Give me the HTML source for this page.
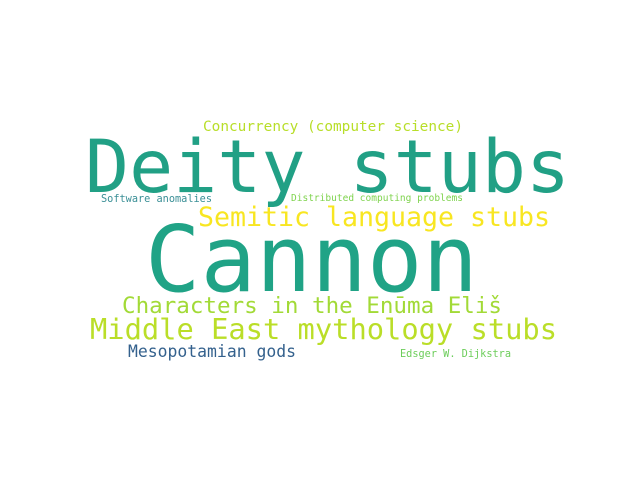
<!DOCTYPE html>
<html><head><meta charset="utf-8"><style>
html,body{margin:0;padding:0;background:#fff;}
svg{display:block;}
text{font-family:"DejaVu Sans Mono","Liberation Mono",monospace;}
</style></head><body>
<svg width="640" height="480" viewBox="0 0 640 480">
<rect width="640" height="480" fill="#fff"/>
<text x="203" y="131" font-size="14.4" fill="#b8de29" textLength="260" lengthAdjust="spacingAndGlyphs">Concurrency (computer science)</text>
<text x="85" y="192" font-size="73" fill="#21a085" textLength="485" lengthAdjust="spacingAndGlyphs">Deity stubs</text>
<text x="101" y="202" font-size="10.2" fill="#3a8f96" textLength="111" lengthAdjust="spacingAndGlyphs">Software anomalies</text>
<text x="291" y="201" font-size="9.5" fill="#7fd34e" textLength="172" lengthAdjust="spacingAndGlyphs">Distributed computing problems</text>
<text x="198" y="226" font-size="26.6" fill="#f8e621" textLength="352" lengthAdjust="spacingAndGlyphs">Semitic language stubs</text>
<text x="145" y="291" font-size="92" fill="#20a386" textLength="333" lengthAdjust="spacingAndGlyphs">Cannon</text>
<text x="122" y="313" font-size="22.5" fill="#a2da37" textLength="380" lengthAdjust="spacingAndGlyphs">Characters in the Enūma Eliš</text>
<text x="90" y="339" font-size="28.7" fill="#bade28" textLength="467" lengthAdjust="spacingAndGlyphs">Middle East mythology stubs</text>
<text x="128" y="357" font-size="16.4" fill="#34618d" textLength="168" lengthAdjust="spacingAndGlyphs">Mesopotamian gods</text>
<text x="400" y="357" font-size="10.2" fill="#6ccd5a" textLength="111" lengthAdjust="spacingAndGlyphs">Edsger W. Dijkstra</text>
</svg>
</body></html>
